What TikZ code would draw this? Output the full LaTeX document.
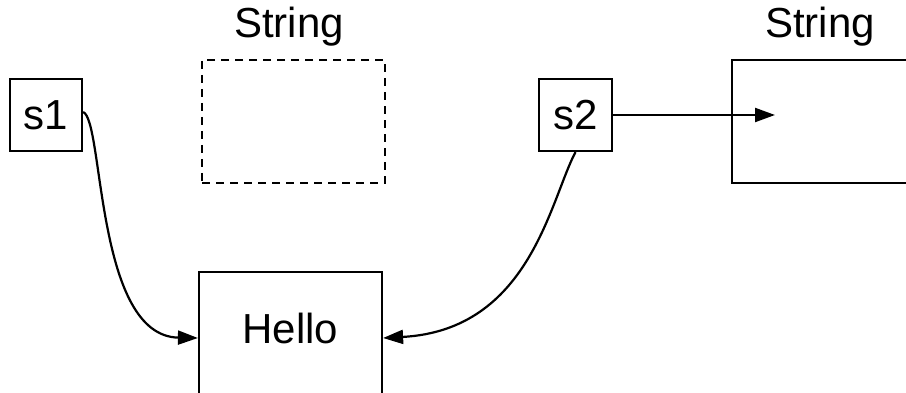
\documentclass[tikz,border=0pt]{standalone}
\usepackage{fontspec}
\setmainfont{Liberation Sans}
\usetikzlibrary{arrows.meta}
\begin{document}
\begin{tikzpicture}[x=1pt,y=-1pt,
    every node/.style={font=\fontsize{42}{50}\selectfont, inner sep=0pt},
    ref/.style={draw, line width=2.2pt, minimum width=72pt, minimum height=72pt,
                text height=29pt, text depth=0pt},
    obj/.style={draw, line width=2.2pt},
    ptr/.style={line width=2.2pt, -{Triangle[length=20pt,width=14pt]}},
    lbl/.style={anchor=base}]
  \clip (0,0) rectangle (906,393);

  % reference variables
  \node[ref] (s1) at (46,115) {s1};
  \node[ref, minimum width=73pt] (s2) at (575.5,115) {s2};

  % the discarded String object (dashed) and its type label
  \node[obj, dashed, dash pattern=on 8pt off 6pt, minimum width=183pt, minimum height=123pt]
    (oldstr) at (293.5,121.5) {};
  \node[lbl] (oldlbl) at (289,38) {String};

  % the new String object and its type label
  \node[obj, minimum width=188pt, minimum height=123pt] (newstr) at (826,121.5) {};
  \node[lbl] (newlbl) at (820,38) {String};
  \coordinate (newin) at (775,115);

  % the shared "Hello" object
  \node[obj, minimum width=183pt, minimum height=132pt, text height=29pt, text depth=19pt]
    (hello) at (290.5,338) {Hello};

  % pointers
  \draw[ptr] ([yshift=3pt]s1.east) .. controls (104,120) and (95,336) .. (hello.west);
  \draw[ptr] (s2.south) .. controls (550,200) and (530,330) .. (hello.east);
  \draw[ptr] (s2.east) -- (newin);
\end{tikzpicture}
\end{document}
